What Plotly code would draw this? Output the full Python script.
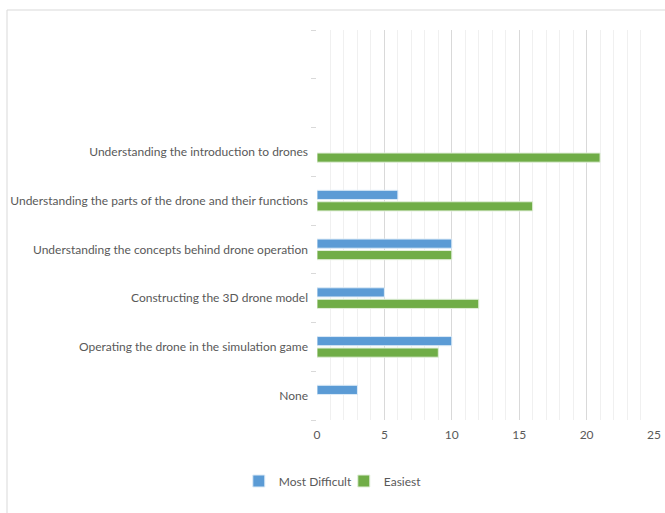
import plotly.graph_objects as go

categories = [
    "None",
    "Operating the drone in the simulation game",
    "Constructing the 3D drone model",
    "Understanding the concepts behind drone operation",
    "Understanding the parts of the drone and their functions",
    "Understanding the introduction to drones",
]
n_empty_slots = 2
most_difficult = [3, 10, 5, 10, 6, None]
easiest = [None, 9, 12, 10, 16, 21]
x_ticks = [0, 5, 10, 15, 20, 25]

W, H = 665, 513
ml, mr, mt, mb = 317, 11, 30, 93
pw, ph = W - ml - mr, H - mt - mb

font_family = "Lato, Liberation Sans, sans-serif"
txt = "#595959"

ypos = list(range(len(categories)))
n_slots = len(categories) + n_empty_slots

fig = go.Figure()
fig.add_trace(go.Bar(
    y=ypos, x=easiest, orientation="h", name="Easiest",
    marker=dict(color="#70AD47", line=dict(color="#E2EFDA", width=1)),
))
fig.add_trace(go.Bar(
    y=ypos, x=most_difficult, orientation="h", name="Most Difficult",
    marker=dict(color="#5B9BD5", line=dict(color="#DDEBF7", width=1)),
))

fig.update_layout(
    width=W, height=H,
    margin=dict(l=ml, r=mr, t=mt, b=mb, autoexpand=False),
    paper_bgcolor="white", plot_bgcolor="white",
    barmode="group", bargap=0.53, bargroupgap=0.2,
    font=dict(family=font_family, size=12, color=txt),
    legend=dict(orientation="h", xref="container", x=0.517,
                xanchor="center", yref="container", y=(H - 481) / H, yanchor="middle",
                traceorder="reversed", font=dict(size=12, color=txt),
                itemwidth=30, entrywidth=60, entrywidthmode="pixels"),
    showlegend=True,
)
fig.update_xaxes(
    range=[0, 25], tickvals=x_ticks, showgrid=True, gridcolor="#D9D9D9", gridwidth=1,
    zeroline=False, showline=False, ticks="", automargin=False,
    minor=dict(dtick=1, showgrid=True, gridcolor="#F0F0F0", gridwidth=1),
    tickfont=dict(size=12, color=txt), ticklabelstandoff=6,
)
fig.update_yaxes(
    range=[-0.5, n_slots - 0.5], automargin=False,
    tickvals=ypos, ticktext=categories,
    showgrid=False, zeroline=False, showline=False, ticks="",
    minor=dict(tickvals=[i - 0.5 for i in range(n_slots + 1)], ticks="outside",
               ticklen=5, tickcolor="#D9D9D9", showgrid=False),
    tickfont=dict(size=12, color=txt), ticklabelstandoff=8,
)

# outer chart border
fig.add_shape(type="rect", xref="paper", yref="paper",
              x0=(7 - ml) / pw, x1=(W + 5 - ml) / pw,
              y0=(H - mb - (H + 5)) / ph, y1=(H - mb - 10) / ph,
              line=dict(color="#D9D9D9", width=1), fillcolor="rgba(0,0,0,0)", layer="below")

fig.write_html("out.html")
